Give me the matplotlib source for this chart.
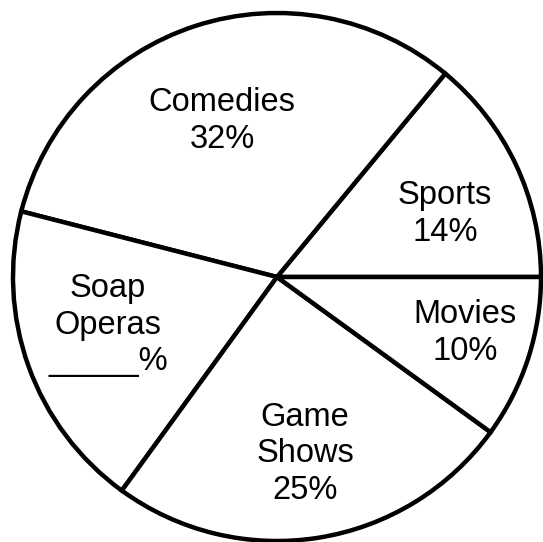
import matplotlib.pyplot as plt

# TV viewing pie chart (Soap Operas share left blank)
categories = ['Sports', 'Comedies', 'Soap\nOperas', 'Game\nShows', 'Movies']
shares = [14, 32, 19, 25, 10]
shown = ['14%', '32%', '_____%', '25%', '10%']

# label positions in pie units (centre 0,0, radius 1)
label_pos = [(0.636, 0.239), (-0.208, 0.591), (-0.640, -0.182),
             (0.106, -0.670), (0.712, -0.212)]

plt.rcParams['font.family'] = ['Liberation Sans', 'DejaVu Sans']

fig = plt.figure(figsize=(5.43, 5.42), dpi=100)
ax = fig.add_axes([13 / 543, 1 / 542, 528 / 543, 528 / 542])

wedges, _ = ax.pie(shares, startangle=0, counterclock=True,
                   colors=['white'] * len(shares),
                   wedgeprops=dict(edgecolor='black', linewidth=3.2))
for w in wedges:
    w.set_clip_on(False)

for name, pct, (x, y) in zip(categories, shown, label_pos):
    ax.text(x, y, name + '\n' + pct, ha='center', va='center',
            fontsize=23.5, linespacing=1.22)

ax.set_xlim(-1, 1)
ax.set_ylim(-1, 1)
ax.set_aspect('equal')
ax.axis('off')

fig.savefig('out.png', dpi=100, facecolor='white')
